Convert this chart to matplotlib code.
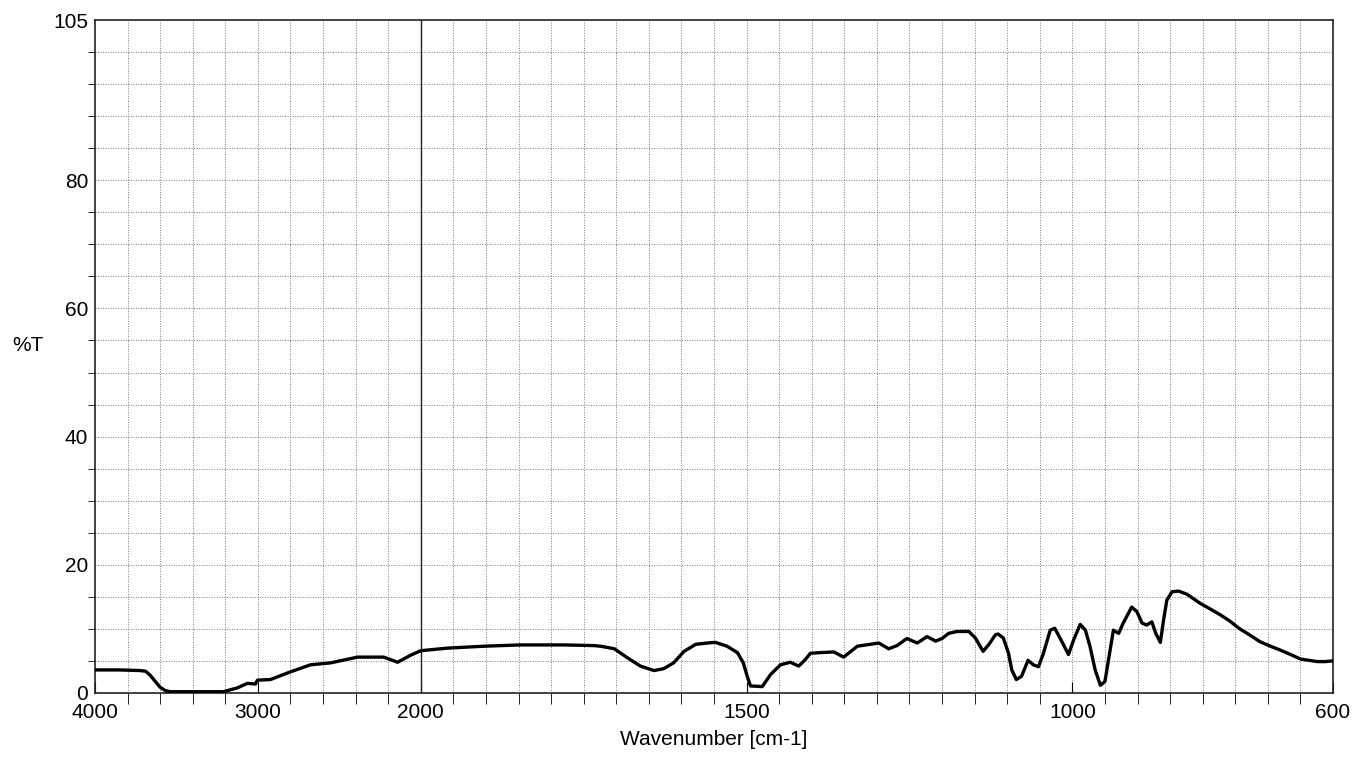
import matplotlib.pyplot as plt
import numpy as np

plt.rcParams['font.family'] = ['Liberation Sans', 'DejaVu Sans']

# spectrum (wavenumber cm-1, %T)
wavenumber = [4000, 3850, 3723, 3690, 3662, 3630, 3600, 3570, 3538, 3400, 3212, 3126,
              3065, 3015, 3003, 2923, 2800, 2677, 2554, 2388, 2228, 2142, 2062, 2000,
              1959, 1903, 1847, 1780, 1735, 1724, 1703, 1683, 1663, 1642, 1627, 1612,
              1596, 1578, 1560, 1548, 1530, 1514, 1505, 1499, 1494, 1476, 1463, 1448,
              1433, 1420, 1410, 1402, 1387, 1366, 1351, 1330, 1310, 1297, 1282, 1269,
              1254, 1238, 1223, 1210, 1200, 1190, 1177, 1159, 1149, 1137, 1128, 1118,
              1114, 1106, 1098, 1093, 1086, 1078, 1068, 1060, 1052, 1045, 1034, 1027,
              1016, 1006, 998, 988, 980, 973, 965, 957, 950, 945, 937, 929, 922, 909,
              901, 893, 886, 878, 872, 865, 860, 855, 847, 837, 824, 804, 790, 773,
              758, 743, 727, 712, 696, 681, 665, 650, 624, 612, 601]
transmittance = [3.6, 3.6, 3.5, 3.4, 2.8, 1.8, 0.9, 0.4, 0.2, 0.2, 0.2, 0.8,
                 1.5, 1.4, 2.0, 2.1, 3.3, 4.4, 4.7, 5.6, 5.6, 4.8, 5.9, 6.6,
                 7.0, 7.3, 7.5, 7.5, 7.4, 7.3, 6.9, 5.5, 4.2, 3.5, 3.8, 4.7,
                 6.5, 7.6, 7.8, 7.9, 7.3, 6.3, 4.7, 2.6, 1.1, 1.0, 2.9, 4.4,
                 4.8, 4.2, 5.2, 6.2, 6.3, 6.4, 5.6, 7.3, 7.6, 7.8, 6.9, 7.4,
                 8.5, 7.8, 8.8, 8.1, 8.5, 9.3, 9.6, 9.6, 8.6, 6.5, 7.6, 9.1,
                 9.2, 8.6, 6.2, 3.6, 2.1, 2.6, 5.1, 4.4, 4.1, 6.0, 9.8, 10.1,
                 8.0, 6.0, 8.3, 10.7, 9.8, 7.3, 3.6, 1.2, 1.8, 4.9, 9.8, 9.3, 10.9, 13.4,
                 12.7, 10.9, 10.6, 11.1, 9.3, 7.9, 11.4, 14.5, 15.8, 15.9, 15.4, 14.0, 13.2, 12.2,
                 11.2, 10.0, 9.0, 8.0, 7.3, 6.7, 6.0, 5.3, 4.9, 4.9, 5.0]

x_labels = [4000, 3000, 2000, 1500, 1000, 600]
y_labels = [0, 20, 40, 60, 80, 105]


# axis is compressed 4x above 2000 cm-1
def fwd(x):
    x = np.asarray(x, dtype=float)
    return np.where(x > 2000, 2000 + (x - 2000) / 4.0, x)


def inv(u):
    u = np.asarray(u, dtype=float)
    return np.where(u > 2000, 2000 + (u - 2000) * 4.0, u)


fig = plt.figure(figsize=(13.56, 7.59), dpi=100)
ax = fig.add_axes([95 / 1356, 1 - 693 / 759, (1333 - 95) / 1356, (693 - 20) / 759])
ax.set_xscale('function', functions=(fwd, inv))
ax.set_xlim(4000, 600)
ax.set_ylim(0, 105)

# dotted grid
xgrid = list(range(3800, 2000, -200)) + list(range(1950, 600, -50))
for g in xgrid:
    ax.axvline(g, color='#7a7a7a', lw=0.7, ls=(0, (1, 1.6)), zorder=1)
for g in range(5, 105, 5):
    ax.axhline(g, color='#7a7a7a', lw=0.7, ls=(0, (1, 1.6)), zorder=1)
ax.axvline(2000, color='#222222', lw=1.0, zorder=2)

ax.plot(wavenumber, transmittance, color='black', lw=2.4, zorder=3,
        solid_joinstyle='round', solid_capstyle='round')

ax.set_xticks(x_labels)
ax.set_xticklabels([str(v) for v in x_labels])
ax.set_xticks(xgrid, minor=True)
ax.set_yticks(y_labels)
ax.set_yticks(list(range(5, 105, 5)), minor=True)
ax.tick_params(axis='both', direction='in', labelsize=15, color='black')
ax.tick_params(axis='x', which='both', length=8, pad=7)
ax.tick_params(axis='y', which='both', length=5, pad=5)
ax.tick_params(axis='y', which='major', length=0)

for s in ax.spines.values():
    s.set_color('#222222')
    s.set_linewidth(1.2)

ax.set_xlabel('Wavenumber [cm-1]', fontsize=15, labelpad=6)
fig.text(28 / 1356, 1 - 345 / 759, '%T', fontsize=15, ha='center', va='center')

fig.savefig('out.png', dpi=100)
